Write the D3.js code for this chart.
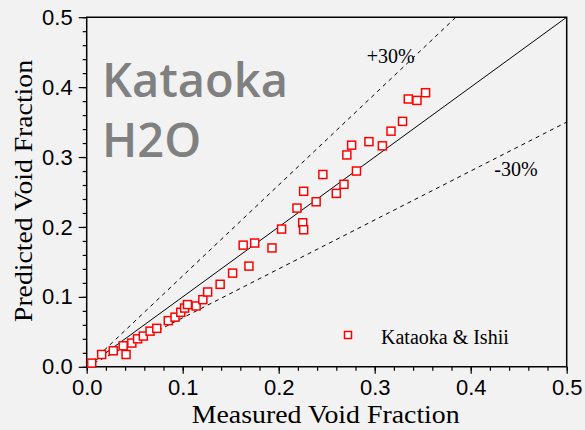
<!DOCTYPE html>
<html>
<head>
<meta charset="utf-8">
<script src="https://cdn.jsdelivr.net/npm/d3@7"></script>
<style>
  html, body { margin: 0; padding: 0; background: #f2f2f2; }
  svg { display: block; }
</style>
</head>
<body>
<div id="chart"></div>
<script>
// Measured vs. predicted void fraction (Kataoka & Ishii correlation, water)
const measured = [
  0.0052, 0.0156, 0.0277, 0.038, 0.041, 0.047, 0.053, 0.059, 0.066, 0.073,
  0.085, 0.092, 0.098, 0.102, 0.105, 0.114, 0.121, 0.126, 0.139, 0.152,
  0.163, 0.169, 0.175, 0.193, 0.203, 0.219, 0.225, 0.226, 0.226, 0.239,
  0.246, 0.260, 0.268, 0.271, 0.276, 0.281, 0.294, 0.308, 0.317, 0.329,
  0.335, 0.344, 0.353
];
const predicted = [
  0.0053, 0.0176, 0.0229, 0.030, 0.0176, 0.034, 0.040, 0.044, 0.051, 0.055,
  0.066, 0.071, 0.078, 0.084, 0.089, 0.087, 0.096, 0.107, 0.118, 0.134,
  0.174, 0.144, 0.177, 0.170, 0.197, 0.227, 0.206, 0.196, 0.251, 0.236,
  0.275, 0.248, 0.261, 0.303, 0.317, 0.280, 0.322, 0.316, 0.337, 0.351,
  0.383, 0.381, 0.392
];
const majorTicks = [0, 0.1, 0.2, 0.3, 0.4, 0.5];
const minorTicks = d3.range(0, 0.5001, 0.02);
const bandFactors = [1.3, 0.7];
const bandLabels = ["+30%", "-30%"];
const seriesName = "Kataoka & Ishii";
const titleLines = ["Kataoka", "H2O"];
const xTitle = "Measured Void Fraction";
const yTitle = "Predicted Void Fraction";

const W = 585, H = 430;
const svg = d3.select("#chart").append("svg")
  .attr("width", W).attr("height", H);
svg.append("rect").attr("width", W).attr("height", H).attr("fill", "#f2f2f2");

const x = d3.scaleLinear().domain([0, 0.5]).range([86.7, 566.7]);
const y = d3.scaleLinear().domain([0, 0.5]).range([366.8, 17.2]);

const serif = "'Liberation Serif', 'Times New Roman', serif";
const sans = "'Liberation Sans', Arial, sans-serif";

// clip region for the reference lines
svg.append("clipPath").attr("id", "plotClip")
  .append("rect")
  .attr("x", x(0)).attr("y", y(0.5))
  .attr("width", x(0.5) - x(0)).attr("height", y(0) - y(0.5));

const lines = svg.append("g").attr("clip-path", "url(#plotClip)");

// 1:1 line
lines.append("line")
  .attr("x1", x(0)).attr("y1", y(0))
  .attr("x2", x(0.5)).attr("y2", y(0.5))
  .attr("stroke", "#000").attr("stroke-width", 1);

// ±30% bands
bandFactors.forEach(f => {
  const xe = Math.min(0.5, 0.5 / f);
  lines.append("line")
    .attr("x1", x(0)).attr("y1", y(0))
    .attr("x2", x(xe)).attr("y2", y(xe * f))
    .attr("stroke", "#000").attr("stroke-width", 1)
    .attr("stroke-dasharray", "4,4");
});

// frame
svg.append("path")
  .attr("d", `M${x(0)},${y(0)}V${y(0.5)}H${x(0.5)}V${y(0)}H${x(0)}`)
  .attr("fill", "none").attr("stroke", "#000").attr("stroke-width", 1.5);

// axes
const xAxis = svg.append("g").attr("transform", `translate(0,${y(0)})`);
xAxis.call(d3.axisBottom(x).tickValues(minorTicks).tickSize(4).tickFormat(""))
  .call(g => g.select(".domain").remove());
xAxis.append("g").call(d3.axisBottom(x).tickValues(majorTicks).tickSize(7)
    .tickPadding(6).tickFormat(d3.format(".1f")))
  .call(g => g.select(".domain").remove())
  .call(g => g.selectAll("text").attr("font-family", sans).attr("font-size", 22).attr("fill", "#000"));

const yAxis = svg.append("g").attr("transform", `translate(${x(0)},0)`);
yAxis.call(d3.axisLeft(y).tickValues(minorTicks).tickSize(4).tickFormat(""))
  .call(g => g.select(".domain").remove());
yAxis.append("g").call(d3.axisLeft(y).tickValues(majorTicks).tickSize(8)
    .tickPadding(6).tickFormat(d3.format(".1f")))
  .call(g => g.select(".domain").remove())
  .call(g => g.selectAll("text").attr("font-family", sans).attr("font-size", 22).attr("fill", "#000"));

svg.selectAll(".tick line").attr("stroke", "#000").attr("stroke-width", 1.2);

// axis titles
svg.append("text")
  .attr("x", 191.7).attr("y", 423.3)
  .attr("textLength", 268).attr("lengthAdjust", "spacingAndGlyphs")
  .attr("font-family", serif).attr("font-size", 25)
  .text(xTitle);
svg.append("text")
  .attr("transform", `translate(31.5,322) rotate(-90)`)
  .attr("textLength", 262).attr("lengthAdjust", "spacingAndGlyphs")
  .attr("font-family", serif).attr("font-size", 25)
  .text(yTitle);

// big title
svg.selectAll("text.big").data(titleLines).join("text")
  .attr("class", "big")
  .attr("x", 102).attr("y", (d, i) => 96.7 + i * 60)
  .attr("font-family", "'Open Sans', 'Noto Sans', sans-serif")
  .attr("font-weight", 600)
  .attr("font-size", 47).attr("fill", "#808080")
  .text(d => d);

// band labels
svg.append("text").attr("x", 366.7).attr("y", 63.3)
  .attr("font-family", serif).attr("font-size", 20).text(bandLabels[0]);
svg.append("text").attr("x", 494.3).attr("y", 175.7)
  .attr("font-family", serif).attr("font-size", 20).text(bandLabels[1]);

// data markers
const pts = measured.map((m, i) => ({ m, p: predicted[i] }));
const s = 8;
svg.append("g").selectAll("rect").data(pts).join("rect")
  .attr("x", d => x(d.m) - s / 2).attr("y", d => y(d.p) - s / 2)
  .attr("width", s).attr("height", s)
  .attr("fill", "#fff").attr("stroke", "#ff0000").attr("stroke-width", 1.5);

// legend
const lg = svg.append("g");
lg.append("rect").attr("x", 344.5).attr("y", 331.5).attr("width", 7).attr("height", 7)
  .attr("fill", "#fff").attr("stroke", "#ff0000").attr("stroke-width", 1.5);
lg.append("text").attr("x", 381).attr("y", 344)
  .attr("font-family", serif).attr("font-size", 20).text(seriesName);
</script>
</body>
</html>
